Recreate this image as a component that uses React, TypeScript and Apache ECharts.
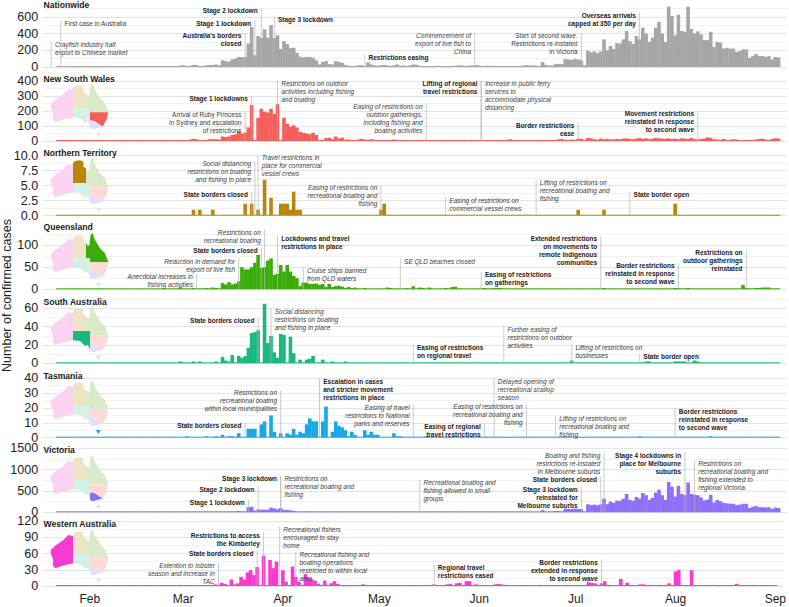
import React, { useEffect, useRef } from "react";
import * as echarts from "echarts";

const FONT = '"Liberation Sans", Arial, sans-serif';

const monthLengths: [string, number, number][] = [
  ["Jan", 18, 31], ["Feb", 1, 29], ["Mar", 1, 31], ["Apr", 1, 30], ["May", 1, 31],
  ["Jun", 1, 30], ["Jul", 1, 31], ["Aug", 1, 31], ["Sep", 1, 3],
];
const days: string[] = [];
monthLengths.forEach(([m, from, to]) => { for (let d = from; d <= to; d++) days.push(`${m} ${d}`); });

// daily values from Jan 22 to Sep 1
const nationwide = [
  0,0,0,4,0,1,1,0,1,2,
  2,8,6,5,0,0,1,0,0,0, 2,3,1,0,2,4,3,1,0,0, 1,3,4,2,2,4,5,8,20,
  20,10,15,25,25,8,8,20,25,25, 30,20,80,70,65,90,100,120,120,120, 280,480,140,370,345,450,350,500,345,380, 215,
  310,275,225,230,170,125,115,120,120,110, 80,30,60,70,35,30,70,60,50,25, 15,10,12,20,22,12,55,30,20,15,
  22,25,18,15,20,30,15,18,12,20, 30,28,15,10,12,8,10,12,15,10, 12,8,10,15,18,20,12,15,18,20, 22,
  10,12,15,8,10,8,6,8,10,12, 8,8,10,20,22,18,20,15,10,60, 25,18,20,35,38,35,95,90,85,95,
  90,80,20,195,175,185,165,185,330,200, 250,215,285,280,330,430,310,275,370,330, 470,400,300,350,470,540,400,300,720,610, 380,
  625,430,420,720,455,400,425,390,320,320, 420,240,300,290,220,230,220,220,180,190, 210,210,110,130,155,130,130,120,130,90, 120,
  115,
];
const newSouthWales = [
  0,0,0,3,0,1,0,0,0,0,
  0,0,1,0,0,0,0,0,0,0, 0,0,0,0,0,0,1,0,0,0, 0,0,1,1,0,1,1,2,4,
  3,5,10,15,12,5,3,8,12,12, 12,10,30,27,30,40,45,65,50,55, 90,240,0,155,215,195,190,215,180,245, 0,
  155,115,95,105,90,60,55,50,45,55, 40,5,8,20,22,12,30,18,22,10, 10,5,5,10,15,10,8,12,8,5,
  6,8,5,3,10,8,4,5,3,6, 3,2,5,4,3,2,5,3,6,4, 4,3,5,3,2,4,8,5,3,6, 4,
  2,3,4,2,5,3,4,3,8,12, 6,3,2,5,3,6,4,3,2,4, 5,3,8,6,12,14,8,6,10,8,
  16,14,6,20,18,12,8,16,12,14, 10,12,14,12,16,18,14,12,16,20, 14,18,12,16,20,18,16,14,18,14, 16,
  12,18,16,14,20,12,10,14,16,24, 20,12,10,8,14,6,8,12,10,6, 5,8,4,6,10,14,16,10,8,14, 18,
  16,
];
const northernTerritory = [
  0,0,0,0,0,0,0,0,0,0,
  0,0,0,0,0,0,0,0,0,0, 0,0,0,0,0,0,0,0,0,0, 0,0,0,0,0,0,0,0,0,
  0,0,0,1,0,1,0,0,0,1, 0,0,0,0,0,0,0,0,0,2, 0,2,0,1,0,6,0,3,0,0, 2,
  2,2,1,4,1,1,0,0,0,0, 0,0,0,0,0,0,0,0,0,0, 0,0,0,0,0,0,0,0,0,0,
  1,2,0,0,0,0,0,0,0,0, 0,0,0,0,0,0,0,0,0,0, 0,0,0,0,0,0,0,0,0,0, 0,
  0,0,0,0,0,0,0,0,0,0, 0,0,0,0,0,0,0,0,0,0, 0,0,0,0,0,0,0,0,0,0,
  1,0,0,0,0,0,0,0,1,0, 0,0,0,0,0,0,0,0,0,0, 0,0,0,0,0,0,0,0,0,0, 2,
  0,0,0,0,0,0,0,0,0,0, 0,0,0,0,0,0,0,0,0,0, 0,0,0,0,0,0,0,0,0,0, 0,
  0,
];
const queensland = [
  0,0,0,0,0,0,0,1,1,2,
  2,1,1,1,0,1,1,1,2,2, 1,0,0,0,0,0,0,0,0,0, 0,0,0,0,0,0,1,2,5,
  2,1,0,3,2,0,0,3,1,4, 3,1,14,11,16,11,13,18,50,45, 45,50,60,78,48,50,65,70,33,35, 55,
  40,55,40,30,25,7,15,15,12,12, 13,10,12,5,12,5,7,8,6,3, 5,3,4,2,2,3,1,2,1,1,
  2,1,4,3,2,1,0,1,3,2, 7,2,4,3,1,4,2,1,1,2, 3,2,5,6,2,1,1,1,0,2, 1,
  2,3,2,2,3,3,3,1,2,1, 1,1,1,2,1,0,1,1,1,1, 1,1,2,1,1,0,1,1,1,1,
  1,1,1,1,1,1,2,1,3,2, 1,2,1,1,1,2,1,1,1,2, 2,1,1,1,1,2,1,1,1,2, 3,
  3,2,1,3,2,1,1,1,1,1, 2,2,1,1,1,1,1,1,1,2, 10,3,1,2,3,3,4,4,4,2, 1,
  2,
];
const southAustralia = [
  0,0,0,0,0,0,0,0,0,0,
  1,1,0,0,0,0,0,0,0,0, 0,0,0,0,0,0,0,0,0,0, 0,0,0,0,0,0,0,0,2,
  0,0,0,2,0,2,0,0,0,0, 2,0,7,3,2,9,0,8,6,8, 17,33,34,36,0,65,22,30,12,6, 32,
  31,0,29,11,0,4,1,4,5,8, 1,0,4,0,0,2,0,0,0,2, 1,0,0,0,0,0,0,0,0,0,
  0,0,0,0,0,0,1,0,0,0, 0,0,0,0,0,0,0,0,0,0, 0,0,0,0,0,1,0,0,0,0, 0,
  0,0,0,0,0,0,0,0,0,0, 0,0,0,0,0,0,0,0,0,0, 0,0,0,0,0,0,0,0,3,0,
  0,0,0,0,0,0,0,0,0,0, 0,0,0,0,1,0,0,0,0,0, 0,2,2,1,0,0,0,1,0,0, 2,
  2,2,2,0,0,3,2,0,0,0, 0,0,1,0,0,0,1,1,0,0, 0,0,1,0,0,0,0,0,0,0, 0,
  0,
];
const tasmania = [
  0,0,0,0,0,0,0,0,0,0,
  0,0,0,0,0,0,0,0,0,0, 0,0,0,0,0,0,0,0,0,0, 0,0,0,0,0,0,0,0,0,
  0,1,0,0,0,0,0,1,0,0, 1,0,2,0,1,1,0,3,0,0, 6,6,6,0,9,11,0,15,4,0, 3,
  0,3,2,6,2,4,3,9,13,11, 11,0,11,21,0,4,11,8,7,5, 1,4,2,0,0,5,2,4,2,2,
  0,0,0,0,3,1,1,0,0,0, 0,0,0,0,1,0,0,0,0,0, 0,0,0,0,0,0,0,0,0,0, 0,
  0,0,0,0,0,0,0,0,0,0, 0,0,0,0,0,0,0,0,0,0, 0,0,0,0,0,0,0,0,0,0,
  0,0,0,0,0,0,0,0,0,0, 0,0,0,0,0,0,0,0,0,1, 0,0,0,0,0,0,0,0,0,0, 0,
  0,0,0,0,0,0,0,0,0,0, 1,0,0,0,0,0,0,0,0,0, 0,0,0,0,0,0,0,0,0,0, 0,
  0,
];
const victoria = [
  0,0,0,2,0,0,1,0,0,0,
  0,0,0,0,0,0,0,0,0,0, 0,0,0,0,0,0,0,0,0,0, 0,0,0,0,0,0,0,1,2,
  2,1,1,2,1,3,1,2,3,4, 3,5,9,8,15,20,25,30,25,20, 120,130,40,65,60,60,60,110,90,70, 100,
  60,55,45,35,25,20,15,12,25,18, 12,8,15,20,10,8,10,12,10,8, 6,5,6,8,6,4,5,7,5,10,
  20,18,10,8,6,4,5,5,3,8, 13,14,8,5,6,5,4,8,8,5, 5,3,6,4,4,5,6,8,7,5, 10,
  5,3,4,3,2,2,3,4,5,8, 8,7,8,15,18,12,15,18,18,50, 20,15,18,30,30,25,85,80,75,85,
  80,70,10,190,170,180,165,185,320,190, 250,220,275,270,320,430,290,270,360,320, 450,400,290,340,460,530,400,290,710,600, 370,
  620,430,400,700,430,410,400,350,280,300, 410,230,290,260,220,210,200,200,170,180, 200,200,100,130,150,120,120,110,120,80, 110,
  100,
];
const westernAustralia = [
  0,0,0,0,0,0,0,0,0,0,
  0,0,0,0,0,0,0,0,0,0, 0,0,0,0,0,0,0,0,0,0, 0,0,0,0,0,0,0,0,2,
  1,0,0,0,0,1,0,1,0,1, 3,0,6,4,0,12,3,5,17,12, 25,29,20,35,0,56,0,48,33,45, 0,
  29,8,0,36,17,8,2,22,15,12, 10,4,2,10,2,5,9,4,2,1, 2,1,0,1,2,3,1,1,1,0,
  1,1,0,2,1,0,1,1,0,1, 1,0,1,1,1,2,2,3,0,0, 1,3,4,1,5,6,2,9,9,1, 3,
  2,1,0,0,0,3,4,3,1,0, 2,1,1,1,0,1,1,1,1,2, 1,1,2,1,1,0,1,2,1,1,
  1,1,0,2,7,6,5,2,5,9, 2,1,1,2,13,2,6,0,0,0, 3,3,2,2,1,1,2,1,2,5, 1,
  27,30,0,0,0,29,0,1,0,0, 0,2,2,1,1,1,0,1,2,4, 2,1,1,1,2,1,1,0,1,0, 1,
  1,
];

type Note = [string, number, string, "L" | "R", "b" | "i" | "r"];

const nationwideNotes: Note[] = [
  ["Jan 20", 304, "Crayfish industry halt\nexport to Chinese market", "R", "i"],
  ["Jan 23", 556, "First case in Australia", "R", "r"],
  ["Mar 20", 404, "Australia's borders\nclosed", "L", "b"],
  ["Mar 23", 552, "Stage 1 lockdown", "L", "b"],
  ["Mar 25", 704, "Stage 2 lockdown", "L", "b"],
  ["Mar 29", 604, "Stage 3 lockdown", "R", "b"],
  ["Apr 26", 152, "Restrictions easing", "R", "b"],
  ["May 30", 404, "Commencement of\nexport of live fish to\nChina", "L", "i"],
  ["Jul 2", 404, "Start of second wave.\nRestrictions re-instated\nin Victoria", "L", "r"],
  ["Jul 20", 652, "Overseas arrivals\ncapped at 350 per day", "L", "b"],
];
const nswNotes: Note[] = [
  ["Mar 20", 195, "Arrival of Ruby Princess\nin Sydney and escalation\nof restrictions", "L", "r"],
  ["Mar 22", 300, "Stage 1 lockdowns", "L", "b"],
  ["Mar 30", 400, "Restrictions on outdoor\nactivities including fishing\nand boating", "R", "i"],
  ["May 15", 250, "Easing of restrictions on\noutdoor gatherings,\nincluding fishing and\nboating activities", "L", "i"],
  ["Jun 1", 400, "Lifting of regional\ntravel restrictions", "L", "b"],
  ["Jun 1", 400, "Increase in public ferry\nservices to\naccommodate physical\ndistancing", "R", "i"],
  ["Jul 1", 124, "Border restrictions\nease", "L", "b"],
  ["Aug 7", 200, "Movement restrictions\nreinstated in response\nto second wave", "L", "b"],
];
const ntNotes: Note[] = [
  ["Mar 22", 4, "State borders closed", "L", "b"],
  ["Mar 23", 9.1, "Social distancing\nrestrictions on boating\nand fishing in place", "L", "i"],
  ["Mar 24", 10.1, "Travel restrictions in\nplace for commercial\nvessel crews", "R", "i"],
  ["May 1", 5.1, "Easing of restrictions on\nrecreational boating and\nfishing", "L", "i"],
  ["May 21", 3.05, "Easing of restrictions on\ncommercial vessel crews", "R", "i"],
  ["Jun 18", 6.05, "Lifting of restrictions on\nrecreational boating and\nfishing", "R", "i"],
  ["Jul 17", 4, "State border open", "R", "b"],
];
const qldNotes: Note[] = [
  ["Mar 5", 36, "Anecdotal increases in\nfishing activities", "L", "i"],
  ["Mar 18", 70, "Reduction in demand for\nexport of live fish", "L", "i"],
  ["Mar 25", 94, "State borders closed", "L", "b"],
  ["Mar 26", 135, "Restrictions on\nrecreational boating", "L", "i"],
  ["Mar 30", 121, "Lockdowns and travel\nrestrictions in place", "R", "b"],
  ["Apr 7", 50, "Cruise ships banned\nfrom QLD waters", "R", "i"],
  ["May 7", 70, "SE QLD beaches closed", "R", "i"],
  ["Jun 1", 39, "Easing of restrictions\non gatherings", "R", "b"],
  ["Jul 8", 121, "Extended restrictions\non movements to\nremote indigenous\ncommunities", "L", "b"],
  ["Aug 1", 60, "Border restrictions\nreinstated in response\nto second wave", "L", "b"],
  ["Aug 22", 89.5, "Restrictions on\noutdoor gatherings\nreinstated", "L", "b"],
];
const saNotes: Note[] = [
  ["Mar 24", 50, "State borders closed", "L", "b"],
  ["Mar 28", 60, "Social distancing\nrestrictions on boating\nand fishing in place", "R", "i"],
  ["May 11", 20, "Easing of restrictions\non regional travel", "R", "b"],
  ["Jun 8", 40, "Further easing of\nrestrictions on outdoor\nactivities", "R", "i"],
  ["Jun 29", 20, "Lifting of restrictions on\nbusinesses", "R", "i"],
  ["Jul 20", 10, "State border open", "R", "b"],
];
const tasNotes: Note[] = [
  ["Mar 20", 10, "State borders closed", "L", "b"],
  ["Mar 31", 32, "Restrictions on\nrecreational boating\nwithin local municipalities", "L", "i"],
  ["Apr 12", 40, "Escalation in cases\nand stricter movement\nrestrictions in place", "R", "b"],
  ["May 11", 22, "Easing of travel\nrestrictions to National\nparks and reserves", "L", "i"],
  ["Jun 2", 9.7, "Easing of regional\ntravel restrictions", "L", "b"],
  ["Jun 5", 40, "Delayed opening of\nrecreational scallop\nseason", "R", "i"],
  ["Jun 15", 22.7, "Easing of restrictions on\nrecreational boating and\nfishing", "L", "i"],
  ["Jun 24", 14.8, "Lifting of restrictions on\nrecreational boating and\nfishing", "R", "i"],
  ["Jul 31", 19.8, "Border restrictions\nreinstated in response\nto second wave", "R", "b"],
];
const vicNotes: Note[] = [
  ["Mar 21", 304, "Stage 1 lockdown", "L", "b"],
  ["Mar 24", 600, "Stage 2 lockdown", "L", "b"],
  ["Mar 31", 850, "Stage 3 lockdown", "L", "b"],
  ["Mar 31", 850, "Restrictions on\nrecreational boating and\nfishing", "R", "i"],
  ["May 13", 757, "Recreational boating and\nfishing allowed in small\ngroups", "R", "i"],
  ["Jul 2", 600, "Stage 3 lockdown\nreinstated for\nMelbourne suburbs", "L", "b"],
  ["Jul 8", 835, "State borders closed", "L", "b"],
  ["Jul 9", 1404, "Boating and fishing\nrestrictions re-instated\nin Melbourne suburbs", "L", "i"],
  ["Aug 3", 1404, "Stage 4 lockdowns in\nplace for Melbourne\nsuburbs", "L", "b"],
  ["Aug 6", 1209, "Restrictions on\nrecreational boating and\nfishing extended to\nregional Victoria.", "R", "i"],
];
const waNotes: Note[] = [
  ["Mar 12", 43.7, "Extention to lobster\nseason and increase in\nTAC", "L", "i"],
  ["Mar 24", 64.6, "State borders closed", "L", "b"],
  ["Mar 26", 99, "Restrictions to access\nthe Kimberley", "L", "b"],
  ["Mar 31", 109.5, "Recreational fishers\nencouraged to stay\nhome", "R", "i"],
  ["Apr 5", 63, "Recreational fishing and\nboating operations\nrestricted to within local\narea", "R", "i"],
  ["May 18", 38.8, "Regional travel\nrestrictions eased", "R", "b"],
  ["Jul 9", 49, "Border restrictions\nextended in response\nto second wave", "L", "b"],
];

const panels = [
  { name: "Nationwide", values: nationwide, notes: nationwideNotes, color: "#a6a6a6", top: 0, bottom: 67, max: 800, interval: 200, hideTop: true, state: "" },
  { name: "New South Wales", values: newSouthWales, notes: nswNotes, color: "#f45f5b", top: 81, bottom: 141, max: 400, interval: 100, hideTop: false, state: "NSW" },
  { name: "Northern Territory", values: northernTerritory, notes: ntNotes, color: "#b8860b", top: 155.7, bottom: 215.7, max: 10, interval: 2.5, hideTop: false, state: "NT" },
  { name: "Queensland", values: queensland, notes: qldNotes, color: "#3cac0a", top: 223, bottom: 289.3, max: 150, interval: 50, hideTop: true, state: "QLD" },
  { name: "South Australia", values: southAustralia, notes: saNotes, color: "#19b87c", top: 290, bottom: 363.3, max: 80, interval: 20, hideTop: true, state: "SA" },
  { name: "Tasmania", values: tasmania, notes: tasNotes, color: "#18a8e8", top: 378.3, bottom: 437.7, max: 40, interval: 10, hideTop: false, state: "TAS" },
  { name: "Victoria", values: victoria, notes: vicNotes, color: "#8e6ff8", top: 448.3, bottom: 512.3, max: 1500, interval: 500, hideTop: false, state: "VIC" },
  { name: "Western Australia", values: westernAustralia, notes: waNotes, color: "#f83bd0", top: 521, bottom: 586, max: 120, interval: 30, hideTop: false, state: "WA" },
];

const titleY = [4.5, 78.5, 153.3, 227.3, 301.7, 375.7, 450, 524.3];
const mapDy = [0, 0, 75, 150, 223, 297, 372, 446];

const stateShapes: Record<string, { pale: string; pts: number[][] }> = {
  WA: { pale: "#fbd3f1", pts: [[152,312],[165,300],[190,282],[205,267],[219,270],[219,352],[195,357],[165,367],[158,357],[160,342],[152,322]] },
  NT: { pale: "#eee3c5", pts: [[219,265],[225,258],[240,256],[250,260],[250,275],[258,280],[258,324],[219,324]] },
  QLD: { pale: "#d9e9c9", pts: [[258,280],[264,288],[268,285],[272,254],[278,250],[285,270],[300,295],[315,310],[325,337],[270,337],[270,324],[258,324]] },
  SA: { pale: "#d3f1e5", pts: [[219,324],[270,324],[270,380],[264,366],[255,368],[240,354],[219,352]] },
  NSW: { pale: "#ffd9d6", pts: [[270,337],[325,337],[320,358],[308,380],[295,371],[282,362],[270,362]] },
  VIC: { pale: "#e4ddfc", pts: [[270,362],[282,362],[295,371],[308,380],[292,384],[280,388],[270,385]] },
  TAS: { pale: "#cfeaf8", pts: [[287,399],[302,399],[296,411]] },
};

const NOTE_GAP = 3.7;
const NOTE_LINE = 8;

function noteSeries(p: typeof panels[number], gridIndex: number) {
  return {
    type: "custom",
    xAxisIndex: gridIndex,
    yAxisIndex: gridIndex,
    silent: true,
    z: 5,
    clip: false,
    data: p.notes.map((n) => [n[0], n[1]]),
    renderItem: (params: any, api: any) => {
      const n = p.notes[params.dataIndex];
      const top = api.coord([api.value(0), api.value(1)]);
      const base = api.coord([api.value(0), 0]);
      const right = n[3] === "R";
      const font = `${n[4] === "i" ? "italic" : "normal"} ${n[4] === "b" ? "bold" : "normal"} 6.5px ${FONT}`;
      return {
        type: "group",
        children: [
          { type: "line", shape: { x1: top[0], y1: top[1], x2: base[0], y2: base[1] }, style: { stroke: "#b5b5b5", lineWidth: 0.7 } },
          ...n[2].split("\n").map((line, k) => ({
            type: "text",
            x: top[0] + (right ? NOTE_GAP : -NOTE_GAP),
            y: top[1] + 2.8 + k * NOTE_LINE,
            style: {
              text: line,
              font,
              fill: n[4] === "b" ? "#1a1a1a" : "#3c3c3c",
              align: right ? "left" : "right",
              verticalAlign: "middle",
            },
          })),
        ],
      };
    },
  };
}

function buildOption() {
  const grid = panels.map((p) => ({ left: 43.1, width: 743.6, top: p.top, height: p.bottom - p.top }));
  const xAxis = panels.map((_, i) => ({
    type: "category",
    gridIndex: i,
    data: days,
    boundaryGap: true,
    axisLine: { show: false },
    axisTick: { show: false },
    splitLine: { show: false },
    axisLabel: i === panels.length - 1
      ? {
          show: true,
          interval: (_idx: number, v: string) => / 1$/.test(v),
          formatter: (v: string) => v.slice(0, 3),
          fontSize: 12,
          fontFamily: FONT,
          color: "#222",
          margin: 7,
        }
      : { show: false },
  }));
  const yAxis = panels.map((p, i) => ({
    type: "value",
    gridIndex: i,
    min: 0,
    max: p.max,
    interval: p.interval,
    axisLine: { show: false },
    axisTick: { show: false },
    axisLabel: {
      fontSize: 12.5,
      fontFamily: FONT,
      color: "#222",
      margin: 5,
      showMaxLabel: !p.hideTop,
      formatter: (v: number) => (p.interval < 5 ? v.toFixed(1) : String(v)),
    },
    splitLine: { show: true, showMaxLine: !p.hideTop, lineStyle: { color: "#e4e4e4", width: 1 } },
    minorTick: { show: false, splitNumber: 2 },
    minorSplitLine: { show: true, lineStyle: { color: "#efefef", width: 0.8 } },
  }));
  const bars = panels.map((p, i) => ({
    type: "bar",
    xAxisIndex: i,
    yAxisIndex: i,
    data: [null, null, null, null, ...p.values, null, null],
    barWidth: 3.6,
    barMinHeight: 1,
    itemStyle: { color: p.color },
    silent: true,
    z: 3,
  }));
  const notes = panels.map((p, i) => noteSeries(p, i));

  const graphic: any[] = [];
  panels.forEach((p, i) => {
    graphic.push({
      type: "text",
      x: 43.5,
      y: titleY[i],
      z: 10,
      style: { text: p.name, fontFamily: FONT, fontSize: 8.6, fontWeight: "bold", fill: "#1a1a1a", verticalAlign: "middle" },
    });
    if (!p.state) return;
    graphic.push({
      type: "group",
      x: 0,
      y: mapDy[i],
      z: 10,
      children: Object.entries(stateShapes).map(([k, s]) => ({
        type: "polygon",
        z: 10,
        shape: { points: s.pts.map(([x, y]) => [x / 3, y / 3]) },
        style: { fill: k === p.state ? p.color : s.pale },
      })),
    });
  });
  graphic.push({
    type: "text",
    x: 6.5,
    y: 295.5,
    rotation: Math.PI / 2,
    style: { text: "Number of confirmed cases", fontFamily: FONT, fontSize: 12.5, fill: "#222", align: "center", verticalAlign: "middle" },
  });

  return { animation: false, backgroundColor: "#fff", grid, xAxis, yAxis, series: [...bars, ...notes], graphic };
}

export default function App() {
  const ref = useRef<HTMLDivElement>(null);
  useEffect(() => {
    document.body.style.margin = "0";
    const chart = echarts.init(ref.current!, undefined, { renderer: "svg" });
    chart.setOption(buildOption() as any);
    return () => chart.dispose();
  }, []);
  return <div ref={ref} style={{ width: 789, height: 607 }} />;
}
